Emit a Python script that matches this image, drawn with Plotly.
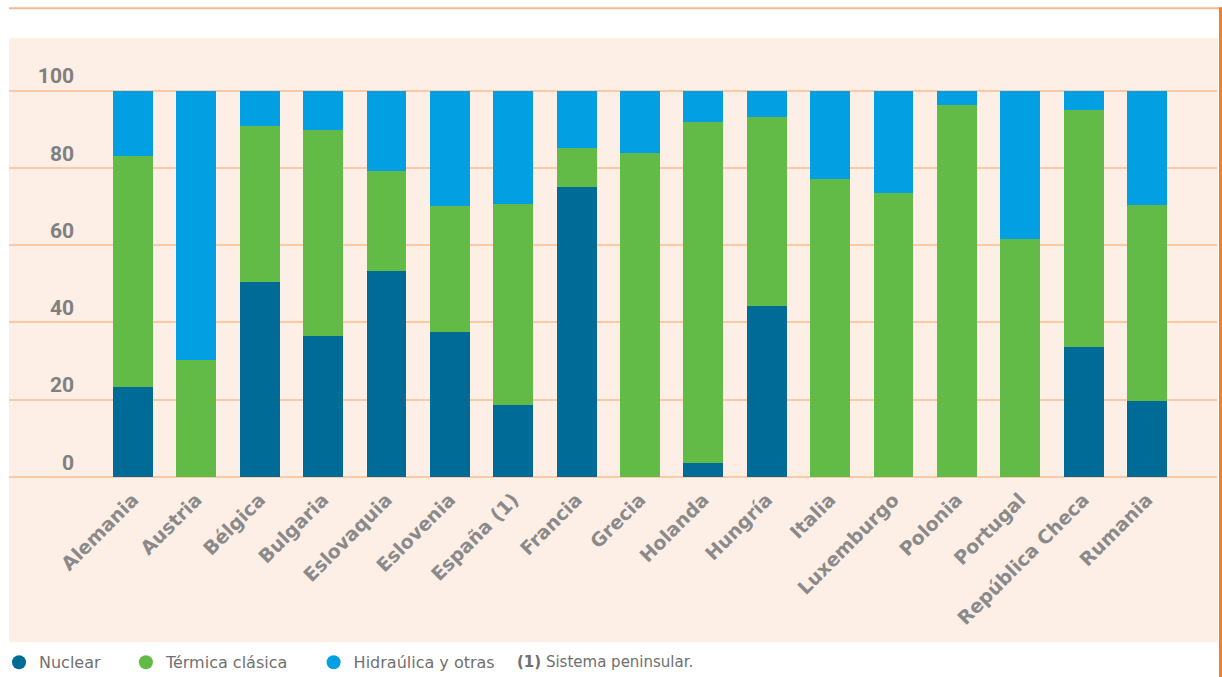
import plotly.graph_objects as go

paises = [
    "Alemania", "Austria", "Bélgica", "Bulgaria", "Eslovaquia", "Eslovenia",
    "España (1)", "Francia", "Grecia", "Holanda", "Hungría", "Italia",
    "Luxemburgo", "Polonia", "Portugal", "República Checa", "Rumania",
]
nuclear = [23.2, 0, 50.4, 36.4, 53.2, 37.5, 18.6, 75.0, 0, 3.5, 44.2, 0, 0, 0, 0, 33.6, 19.6]
termica = [59.8, 30.2, 40.4, 53.3, 26.0, 32.6, 52.0, 10.1, 83.8, 88.5, 48.9, 77.0, 73.6, 96.2, 61.5, 61.3, 50.7]
hidraulica = [17.0, 69.8, 9.2, 10.3, 20.8, 29.9, 29.4, 14.9, 16.2, 8.0, 6.9, 23.0, 26.4, 3.8, 38.5, 5.1, 29.7]
y_ticks = [0, 20, 40, 60, 80, 100]

series = [
    ("Nuclear", nuclear, "#006b96"),
    ("Térmica clásica", termica, "#63bb47"),
    ("Hidraúlica y otras", hidraulica, "#02a0e2"),
]

fig = go.Figure()
for name, vals, color in series:
    fig.add_trace(go.Bar(
        x=paises, y=vals, name=name,
        marker=dict(color=color, line=dict(width=0)),
        showlegend=False, hoverinfo="x+y+name",
    ))
# legend entries with round markers (nbsp padding widens the gaps)
for name, vals, color in series:
    fig.add_trace(go.Scatter(
        x=[None], y=[None], mode="markers", name=name + "\u00a0" * 4,
        marker=dict(color=color, size=14, symbol="circle"),
    ))

W, H = 1222, 677
L, R, T, B = 9, 5, 38, 200
pw, ph = W - L - R, H - T - B
y0 = 476.7  # pixel of value 0


def px(x):
    return (x - L) / pw


def py(y):
    return (y0 - y) / ph


peach = "#fdeee6"
fig.add_shape(type="rect", xref="paper", yref="paper", layer="below",
              x0=px(9), x1=px(1218), y0=py(642), y1=py(38),
              fillcolor=peach, line=dict(width=0))
fig.add_shape(type="line", xref="paper", yref="paper",
              x0=px(9), x1=px(1222), y0=py(8), y1=py(8),
              line=dict(color="#f7b98e", width=2))
fig.add_shape(type="line", xref="paper", yref="paper",
              x0=px(1220.5), x1=px(1220.5), y0=py(7), y1=py(677),
              line=dict(color="#f07f2c", width=3))

fig.add_annotation(
    text="<b>(1)</b> Sistema peninsular.", xref="paper", yref="paper",
    x=px(515), y=py(662), xanchor="left", yanchor="middle", showarrow=False,
    font=dict(family="DejaVu Sans", size=15, color="#707070"),
)

fig.update_layout(
    template="none",
    width=W, height=H,
    barmode="stack", bargap=0.369,
    margin=dict(l=L, r=R, t=T, b=B, autoexpand=False),
    paper_bgcolor="white", plot_bgcolor="rgba(0,0,0,0)",
    legend=dict(orientation="h", traceorder="normal",
                x=px(-1), xanchor="left", y=py(662), yanchor="middle",
                font=dict(family="DejaVu Sans", size=16, color="#707070"),
                bgcolor="rgba(0,0,0,0)", itemclick=False),
    xaxis=dict(
        range=[(9 - 133) / 63.375, (1217 - 133) / 63.375],
        tickangle=-45, showgrid=False, showline=False, ticks="", automargin=False,
        ticklabelstandoff=7,
        tickfont=dict(family="DejaVu Sans", size=19, color="#8a8a8a", weight="bold"),
    ),
    yaxis=dict(
        range=[0, ph / 3.864], tickvals=y_ticks, showgrid=True,
        gridcolor="#fbc9a6", gridwidth=2, zeroline=True, zerolinecolor="#fbc9a6",
        zerolinewidth=2, showline=False, ticks="", automargin=False,
        ticklabelposition="outside top", ticklabelstandoff=-66,
        tickfont=dict(family="Roboto", size=21, color="#808080", weight="bold"),
    ),
)

fig.write_html("out.html", config={"displayModeBar": False},
               post_script="document.body.style.margin='0';")
